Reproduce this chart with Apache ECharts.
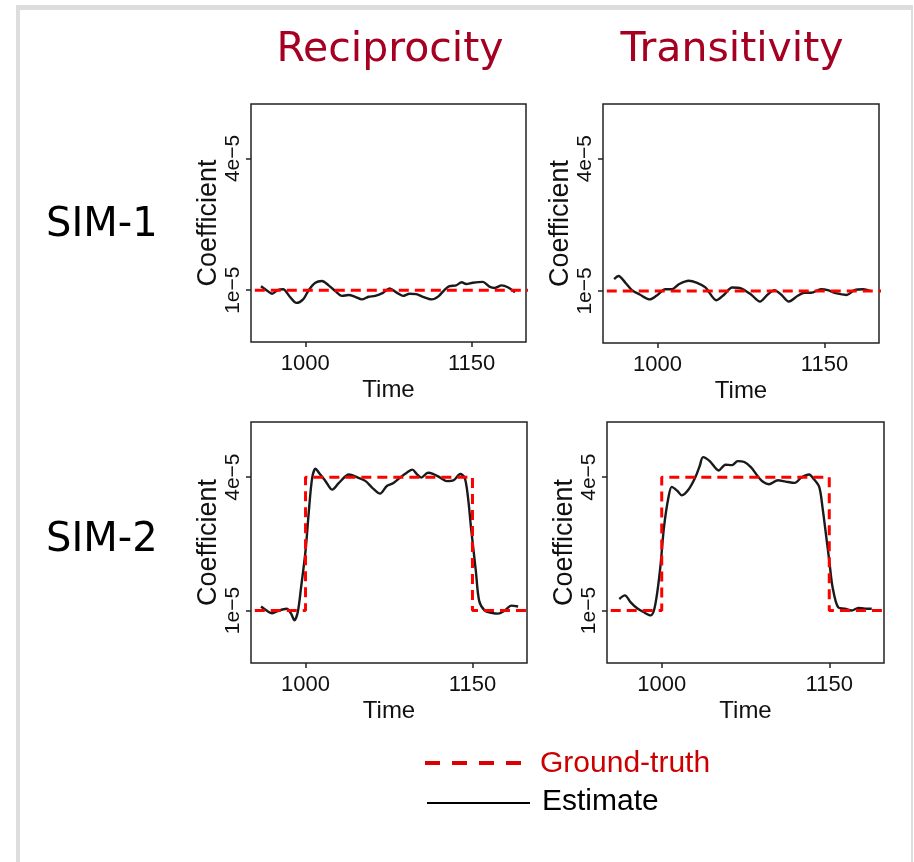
<!DOCTYPE html>
<html>
<head>
<meta charset="utf-8">
<title>Reciprocity / Transitivity</title>
<script src="https://cdn.jsdelivr.net/npm/echarts@6/dist/echarts.min.js"></script>
<style>
  html, body { margin: 0; padding: 0; background: #fff; }
  #main { width: 914px; height: 862px; }
</style>
</head>
<body>
<div id="main"></div>
<script>
// 系数单位：1e-5
const yTicks = [1, 4];
const xTicks = [1000, 1150];

// 真实值（虚线）
const truthSim1 = [[940, 1], [1210, 1]];
const truthSim2 = [[940, 1], [1000, 1], [1000, 4], [1150, 4], [1150, 1], [1210, 1]];

// 估计值（实线），[time, coef]
const recipSim1 = [
  [960, 1.09], [965, 1.0], [970, 0.92], [975, 1.0], [980, 1.02], [986, 0.85], [992, 0.71],
  [998, 0.79], [1003, 1.0], [1009, 1.17], [1015, 1.21], [1021, 1.11], [1027, 0.98],
  [1033, 0.87], [1039, 0.89], [1045, 0.85], [1051, 0.79], [1057, 0.85], [1063, 0.87],
  [1070, 0.94], [1076, 1.04], [1082, 0.95], [1088, 0.87], [1094, 0.92], [1100, 0.91],
  [1106, 0.85], [1114, 0.79], [1120, 0.86], [1126, 1.02], [1130, 1.09], [1136, 1.11],
  [1141, 1.18], [1145, 1.14], [1151, 1.17], [1160, 1.19], [1166, 1.08], [1171, 1.05],
  [1177, 1.11], [1183, 1.06], [1189, 0.95]
];
const transSim1 = [
  [961, 1.27], [965, 1.34], [971, 1.19], [977, 1.02], [984, 0.92], [993, 0.81], [999, 0.89],
  [1007, 1.04], [1013, 1.04], [1019, 1.15], [1028, 1.23], [1035, 1.19], [1043, 1.08],
  [1053, 0.79], [1060, 0.92], [1067, 1.08], [1075, 1.06], [1084, 0.92], [1092, 0.76],
  [1099, 0.92], [1105, 1.02], [1111, 0.92], [1118, 0.76], [1126, 0.89], [1132, 0.96],
  [1138, 0.96], [1147, 1.04], [1153, 1.02], [1160, 0.95], [1170, 0.91], [1177, 1.02],
  [1185, 1.04], [1191, 1.0]
];
const recipSim2 = [
  [960, 1.09], [965, 1.0], [970, 0.94], [976, 1.0], [983, 1.04], [987, 0.93], [990, 0.78],
  [993, 0.96], [996, 1.52], [1000, 2.34], [1003, 3.24], [1006, 3.99], [1009, 4.19],
  [1012, 4.10], [1018, 3.91], [1024, 3.72], [1030, 3.87], [1039, 4.06], [1047, 3.99],
  [1054, 3.91], [1060, 3.76], [1067, 3.63], [1073, 3.80], [1079, 3.87], [1085, 3.99],
  [1091, 4.10], [1096, 4.17], [1100, 4.07], [1104, 3.99], [1110, 4.10], [1115, 4.07],
  [1121, 3.99], [1127, 3.91], [1133, 3.93], [1139, 4.07], [1143, 3.99], [1146, 3.54],
  [1149, 2.79], [1153, 1.90], [1156, 1.22], [1161, 1.0], [1167, 0.95], [1173, 0.93],
  [1179, 1.0], [1185, 1.11], [1191, 1.09]
];
const transSim2 = [
  [962, 1.26], [967, 1.34], [972, 1.19], [978, 1.05], [984, 0.96], [990, 0.89], [993, 1.0],
  [996, 1.41], [999, 2.04], [1002, 2.87], [1006, 3.54], [1009, 3.78], [1014, 3.69],
  [1018, 3.59], [1024, 3.72], [1030, 3.99], [1034, 4.25], [1037, 4.45], [1043, 4.36],
  [1051, 4.15], [1057, 4.28], [1063, 4.27], [1068, 4.36], [1074, 4.34], [1080, 4.22],
  [1086, 4.02], [1091, 3.89], [1096, 3.84], [1104, 3.93], [1111, 3.90], [1119, 3.87],
  [1125, 3.99], [1132, 4.06], [1136, 3.96], [1141, 3.78], [1144, 3.31], [1147, 2.72],
  [1150, 2.12], [1153, 1.52], [1158, 1.07], [1164, 1.04], [1170, 1.0], [1176, 1.06],
  [1182, 1.04], [1188, 1.04]
];

const colTitles = ['Reciprocity', 'Transitivity'];
const rowTitles = ['SIM-1', 'SIM-2'];
const legendNames = ['Ground-truth', 'Estimate'];

// 四个面板的位置
const grids = [
  { left: 251, top: 104, width: 275, height: 238 },
  { left: 603, top: 104, width: 276, height: 239 },
  { left: 251, top: 422, width: 276, height: 241 },
  { left: 607, top: 422, width: 277, height: 241 },
];
const estimates = [recipSim1, transSim1, recipSim2, transSim2];
const truths = [truthSim1, truthSim1, truthSim2, truthSim2];

const sans = '"Liberation Sans", Arial, sans-serif';

const chart = echarts.init(document.getElementById('main'));

const option = {
  animation: false,
  backgroundColor: '#fff',
  grid: grids.map((g) => ({
    ...g,
    show: true,
    borderColor: '#222',
    borderWidth: 1.5,
    backgroundColor: 'transparent',
  })),
  xAxis: grids.map((g, i) => ({
    type: 'value',
    gridIndex: i,
    min: 951,
    max: 1199,
    name: 'Time',
    nameLocation: 'middle',
    nameGap: 36,
    nameTextStyle: { fontFamily: sans, fontSize: 24, color: '#111' },
    splitLine: { show: false },
    axisLine: { show: false, onZero: false },
    axisTick: { show: true, length: 5, customValues: xTicks, lineStyle: { color: '#222', width: 1.5 } },
    axisLabel: {
      customValues: xTicks,
      margin: 11,
      fontFamily: sans,
      fontSize: 22,
      color: '#111',
      formatter: (v) => String(v),
    },
  })),
  yAxis: grids.map((g, i) => ({
    type: 'value',
    gridIndex: i,
    min: -0.18,
    max: 5.24,
    name: 'Coefficient',
    nameLocation: 'middle',
    nameGap: 18,
    nameTextStyle: { fontFamily: sans, fontSize: 27, color: '#111' },
    splitLine: { show: false },
    axisLine: { show: false, onZero: false },
    axisTick: { show: true, length: 5, customValues: yTicks, lineStyle: { color: '#222', width: 1.5 } },
    axisLabel: {
      customValues: yTicks,
      rotate: 90,
      margin: 7,
      fontFamily: sans,
      fontSize: 21,
      color: '#111',
      formatter: (v) => v + 'e\u22125',
    },
  })),
  series: [
    ...estimates.map((d, i) => ({
      name: 'Estimate',
      type: 'line',
      xAxisIndex: i,
      yAxisIndex: i,
      data: d,
      smooth: 0.3,
      showSymbol: false,
      lineStyle: { color: '#1a1a1a', width: 2.4 },
      z: 2,
    })),
    ...truths.map((d, i) => ({
      name: 'Ground-truth',
      type: 'line',
      xAxisIndex: i,
      yAxisIndex: i,
      data: d,
      showSymbol: false,
      lineStyle: { color: '#ff0000', width: 3, type: [10, 6] },
      z: 3,
    })),
  ],
  graphic: [
    // 外框
    { type: 'rect', shape: { x: 16, y: 5, width: 897, height: 880 }, style: { fill: '#dddddd' }, z: -10 },
    { type: 'rect', shape: { x: 20, y: 10, width: 891, height: 870 }, style: { fill: '#ffffff' }, z: -9 },
    // 列标题
    { type: 'text', x: 390, y: 50, style: { text: colTitles[0], font: '41px "DejaVu Sans"', fill: '#a50021', align: 'center', verticalAlign: 'middle' } },
    { type: 'text', x: 732, y: 50, style: { text: colTitles[1], font: '41px "DejaVu Sans"', fill: '#a50021', align: 'center', verticalAlign: 'middle' } },
    // 行标题
    { type: 'text', x: 46, y: 226, style: { text: rowTitles[0], font: '40px "DejaVu Sans"', fill: '#000', align: 'left', verticalAlign: 'middle' } },
    { type: 'text', x: 46, y: 541, style: { text: rowTitles[1], font: '40px "DejaVu Sans"', fill: '#000', align: 'left', verticalAlign: 'middle' } },
    // 图例
    { type: 'line', shape: { x1: 425, y1: 763, x2: 525, y2: 763 }, style: { stroke: '#dd0000', lineWidth: 4, lineDash: [15, 12] } },
    { type: 'text', x: 540, y: 764, style: { text: legendNames[0], font: '30px "Liberation Sans"', fill: '#cc0000', align: 'left', verticalAlign: 'middle' } },
    { type: 'line', shape: { x1: 427, y1: 803, x2: 530, y2: 803 }, style: { stroke: '#000', lineWidth: 2 } },
    { type: 'text', x: 542, y: 802, style: { text: legendNames[1], font: '30px "Liberation Sans"', fill: '#000', align: 'left', verticalAlign: 'middle' } },
  ],
};

chart.setOption(option);
</script>
</body>
</html>
